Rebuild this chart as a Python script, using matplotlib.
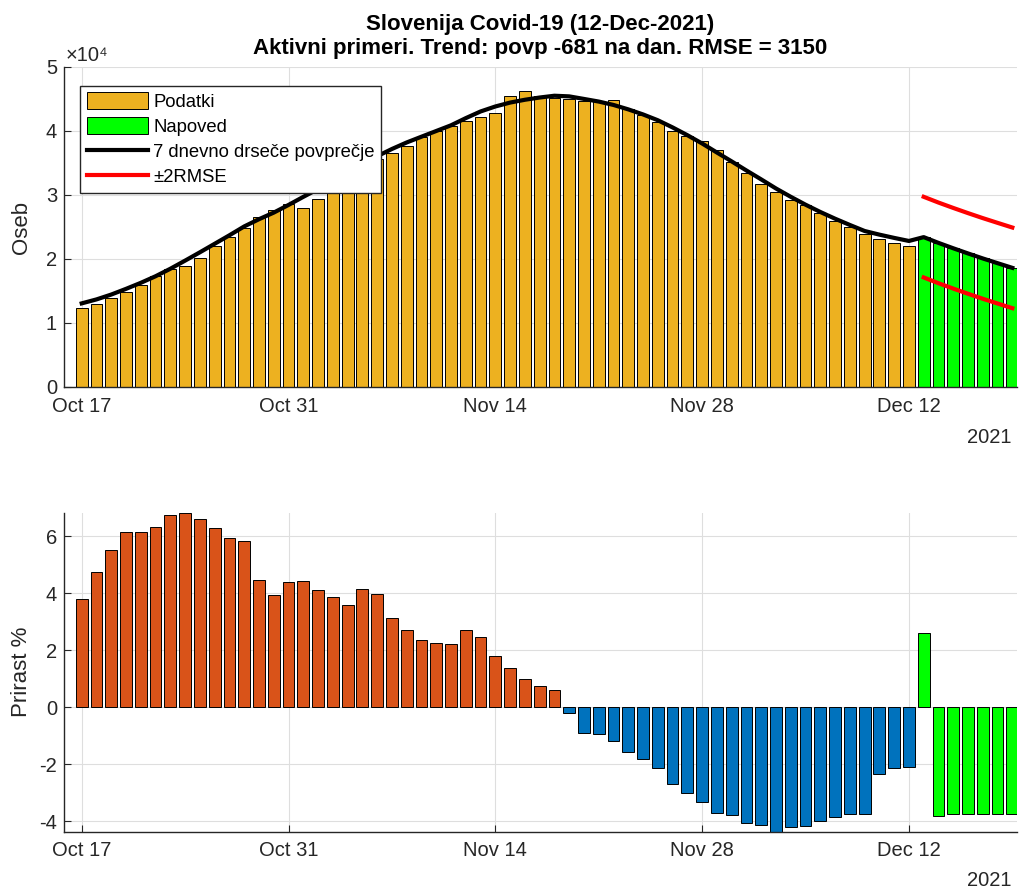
import pandas as pd
import matplotlib
matplotlib.use("Agg")
import matplotlib.pyplot as plt
import matplotlib.dates as mdates
from matplotlib.ticker import FuncFormatter

plt.rcParams['font.family'] = ['Liberation Sans', 'DejaVu Sans']
plt.rcParams['axes.unicode_minus'] = False

# aktivni primeri, 17 Oct - 12 Dec 2021
podatki = [12370, 12900, 13890, 14880, 15930, 17340, 18380, 18900, 20160, 22100,
           23500, 24900, 26530, 27630, 28570,
           28000, 29400, 31500, 32800, 34300, 35600, 36550, 37700, 39060, 40000,
           40700, 41600, 42200, 42800, 45530, 46260, 45530, 45170, 45000, 44700,
           44700, 44900, 43450, 42450, 41350, 40050, 39260, 38480, 37070, 35080,
           33420, 31700, 30450, 29240, 28460, 27150, 26000, 24960, 23900, 23130,
           22550, 22040]
# napoved, 13 Dec - 19 Dec
napoved = [23410, 22510, 21670, 20860, 20080, 19340, 18610]
# 7 dnevno drsece povprecje (Oct 17 - Dec 19)
povprecje = [13060, 13680, 14440, 15330, 16270, 17300, 18470, 19740, 21040, 22370,
             23700, 25080, 26210, 27240, 28440,
             29700, 30920, 32120, 33280, 34660, 36050, 37180, 38200, 39100, 39990,
             40880, 42000, 43040, 43820, 44430, 44870, 45220, 45500, 45400, 45000,
             44590, 44060, 43370, 42580, 41670, 40550, 39340, 38040, 36630, 35240,
             33820, 32430, 31010, 29710, 28480, 27340, 26290, 25310, 24370, 23800,
             23290, 22810,
             23410, 22510, 21670, 20860, 20080, 19340, 18610]
zgoraj = [29710, 28810, 27970, 27160, 26380, 25640, 24910]
spodaj = [17110, 16210, 15370, 14560, 13780, 13040, 12310]

# prirast % (daily change)
prirast = [3.81, 4.76, 5.53, 6.16, 6.16, 6.34, 6.76, 6.83, 6.61, 6.30,
           5.95, 5.85, 4.48, 3.95, 4.39,
           4.42, 4.13, 3.88, 3.60, 4.16, 3.99, 3.15, 2.73, 2.37, 2.27,
           2.23, 2.73, 2.48, 1.81, 1.39, 1.01, 0.76, 0.62, -0.21, -0.88,
           -0.92, -1.19, -1.56, -1.82, -2.14, -2.68, -2.99, -3.31, -3.70, -3.79,
           -4.04, -4.11, -4.36, -4.21, -4.15, -3.98, -3.84, -3.73, -3.73, -2.33,
           -2.12, -2.08]
prirast_napoved = [2.62, -3.82, -3.75, -3.73, -3.73, -3.73, -3.73]

dni = pd.date_range('2021-10-17', periods=len(podatki))
dni_napoved = pd.date_range(dni[-1] + pd.Timedelta(days=1), periods=len(napoved))
vsi_dni = dni.append(dni_napoved)

GOLD = '#EDB120'
GREEN = '#00FF00'
ORANGE = '#D95319'
BLUE = '#0072BD'
AXC = '#262626'

fig = plt.figure(figsize=(10.19, 8.9), dpi=100)
ax1 = fig.add_axes([0.0628, 0.5652, 0.935, 0.3596])
ax2 = fig.add_axes([0.0628, 0.0655, 0.935, 0.3584])

b1 = ax1.bar(dni, podatki, width=0.8, color=GOLD, edgecolor='k', linewidth=0.7, zorder=2)
b2 = ax1.bar(dni_napoved, napoved, width=0.8, color=GREEN, edgecolor='k', linewidth=0.7, zorder=2)
l1, = ax1.plot(vsi_dni, povprecje, color='k', lw=3, zorder=3)
l2, = ax1.plot(dni_napoved, zgoraj, color='r', lw=3, zorder=3)
ax1.plot(dni_napoved, spodaj, color='r', lw=3, zorder=3)

barve = [ORANGE if v > 0 else BLUE for v in prirast]
ax2.bar(dni, prirast, width=0.8, color=barve, edgecolor='k', linewidth=0.7, zorder=2)
ax2.bar(dni_napoved, prirast_napoved, width=0.8, color=GREEN, edgecolor='k', linewidth=0.7, zorder=2)

xl = (mdates.date2num(dni[0]) - 1.2, mdates.date2num(dni_napoved[-1]) + 0.3)
for ax in (ax1, ax2):
    ax.set_xlim(xl)
    ax.set_xticks(dni[::14])
    ax.xaxis.set_major_formatter(mdates.DateFormatter('%b %d'))
    ax.grid(True, color='#DEDEDE', lw=0.8, zorder=0)
    ax.set_axisbelow(True)
    for s in ('top', 'right'):
        ax.spines[s].set_visible(False)
    for s in ('left', 'bottom'):
        ax.spines[s].set_color(AXC)
        ax.spines[s].set_linewidth(1.0)
    ax.tick_params(direction='in', length=5, color=AXC, labelcolor=AXC, labelsize=14.5)
    ax.tick_params(axis='x', pad=7)
    ax.tick_params(axis='y', pad=5)

ax1.set_ylim(0, 50000)
ax1.set_yticks(range(0, 50001, 10000))
ax1.yaxis.set_major_formatter(FuncFormatter(lambda v, p: f'{v/1e4:g}'))
ax1.text(0.002, 1.005, '×10⁴', transform=ax1.transAxes, fontsize=14.5, color=AXC,
         ha='left', va='bottom')
ax1.set_ylabel('Oseb', fontsize=16, color=AXC, labelpad=10)
ax1.set_title('Slovenija Covid-19 (12-Dec-2021)\nAktivni primeri. Trend: povp -681 na dan. RMSE = 3150',
              fontsize=16, fontweight='bold', pad=9, linespacing=1.2)

leg = ax1.legend([b1, b2, l1, l2],
                 ['Podatki', 'Napoved', '7 dnevno drseče povprečje', '±2RMSE'],
                 loc='upper left', bbox_to_anchor=(0.017, 0.941), borderaxespad=0,
                 fancybox=False, framealpha=1, edgecolor=AXC, fontsize=13.3,
                 handlelength=3.3, handleheight=1.0, handletextpad=0.3,
                 labelspacing=0.35, borderpad=0.35)
leg.get_frame().set_linewidth(1.0)
leg.set_zorder(5)

ax2.set_ylim(min(prirast + prirast_napoved), max(prirast + prirast_napoved))
ax2.set_yticks([-4, -2, 0, 2, 4, 6])
ax2.set_ylabel('Prirast %', fontsize=16, color=AXC, labelpad=5)

fig.text(1012 / 1019, 1 - 437 / 890, '2021', fontsize=14.5, color=AXC, ha='right', va='center')
fig.text(1012 / 1019, 1 - 881 / 890, '2021', fontsize=14.5, color=AXC, ha='right', va='center')

fig.savefig('out.png', dpi=100)
